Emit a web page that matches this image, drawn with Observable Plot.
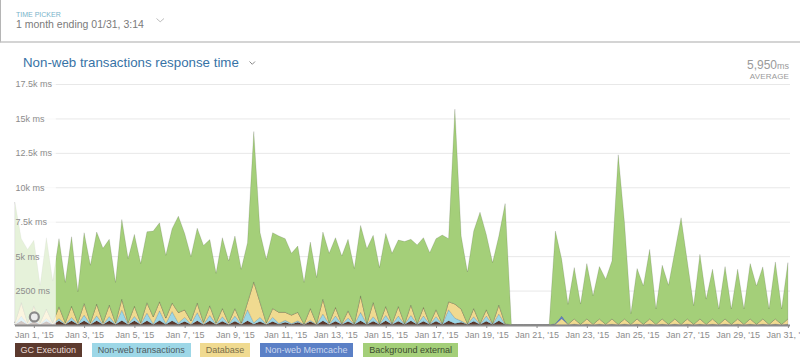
<!DOCTYPE html>
<html><head><meta charset="utf-8">
<script src="https://cdn.jsdelivr.net/npm/d3@7"></script>
<script src="https://cdn.jsdelivr.net/npm/@observablehq/plot@0.6"></script>
<style>
html,body{margin:0;padding:0;background:#fff;width:800px;height:362px;overflow:hidden;font-family:"Liberation Sans",Arial,sans-serif;}
#top{position:absolute;left:0;top:0;width:800px;height:43px;border-left:1px solid #b5b5b5;border-bottom:2px solid #d4d4d4;box-sizing:border-box;}
.abs{position:absolute;white-space:nowrap;line-height:1;}
#tp{left:16px;top:11px;font-size:7px;color:#78b2c9;}
#range{left:16px;top:19.3px;font-size:10.5px;color:#7a7a7a;}
#title{left:23px;top:55.6px;font-size:13.3px;color:#3773a6;}
#avg{right:11px;top:58.5px;font-size:12px;color:#9a9a9a;text-align:right;}
#avg small{font-size:9px;}
#avgl{right:11px;top:73.3px;font-size:8px;color:#9a9a9a;letter-spacing:0.15px;}
#chart{position:absolute;left:0;top:72px;}
.lg{position:absolute;top:343px;height:14px;line-height:14px;font-size:9px;text-align:center;white-space:nowrap;}
</style></head>
<body>
<div id="top"></div>
<div class="abs" id="tp">TIME PICKER</div>
<div class="abs" id="range">1 month ending 01/31, 3:14</div>
<svg style="position:absolute;left:0;top:0" width="800" height="80">
  <polyline points="156.5,18.5 160.2,21.8 164,18.5" fill="none" stroke="#bdbdbd" stroke-width="1"/>
  <polyline points="249.5,61.5 252.3,64.3 255,61.5" fill="none" stroke="#8a8a8a" stroke-width="1"/>
</svg>
<div class="abs" id="title">Non-web transactions response time</div>
<div class="abs" id="avg">5,950<small>ms</small></div>
<div class="abs" id="avgl">AVERAGE</div>
<div id="chart"></div>
<div id="legend"></div>
<script>
// ---- data (ms), one value every 6 hours starting 2014-12-31 06:00 UTC ----
const startTime = "2014-12-31T06:00:00Z";
const stepHours = 6;

const gcExecution = [
30,300,30,280,30,280,30,300,30,300,
30,300,30,300,30,300,30,320,30,300,
30,300,40,320,40,300,60,250,30,300,
30,300,30,280,30,280,30,300,60,250,
30,250,60,200,50,200,20,250,20,300,
30,280,30,250,30,300,30,280,30,300,
30,280,30,300,30,280,30,280,30,300,
100,200,30,280,30,280,30,300,30,0,
0,0,0,0,0,0,0,0,0,30,
0,30,0,30,0,30,0,30,0,30,
0,30,0,30,0,30,0,30,0,30,
0,30,0,30,0,30,0,30,0,30,
0,30,0,30];

const nonWebTransactions = [
20,350,20,250,20,200,20,180,20,250,
20,420,20,370,20,320,20,760,20,320,
20,570,40,710,60,680,80,300,30,600,
20,400,20,320,20,370,20,810,100,310,
20,310,60,140,50,100,10,100,10,500,
20,370,20,250,20,620,20,320,20,400,
20,370,20,400,20,370,20,320,20,810,
400,100,20,320,20,370,20,500,20,0,
0,0,0,0,0,0,0,0,0,30,
0,30,0,30,0,30,0,30,0,30,
0,30,0,30,0,30,0,30,0,30,
0,30,0,30,0,30,0,30,0,30,
0,30,0,30];

const database = [
120,990,120,870,120,680,120,840,120,820,
120,850,120,850,120,830,120,800,120,750,
120,750,520,660,400,620,760,550,240,700,
150,700,100,600,100,550,100,530,2970,1080,
100,640,800,580,620,620,40,850,70,1080,
100,630,50,530,50,1200,50,1040,50,650,
50,700,50,750,50,630,50,510,50,580,
1020,860,50,600,50,460,50,650,50,0,
0,0,0,0,0,0,50,450,50,380,
50,380,50,380,50,380,50,380,50,380,
50,380,50,380,50,380,50,380,50,380,
50,380,50,380,50,380,50,380,50,380,
50,380,50,380];

const nonWebMemcache = [
0,0,0,0,0,0,0,0,0,0,
0,0,0,0,0,0,0,0,0,0,
0,0,0,0,0,0,0,0,0,0,
0,0,0,0,0,0,0,0,0,0,
0,0,0,0,0,0,0,0,0,0,
0,0,0,0,0,0,0,0,0,0,
0,0,0,0,0,0,0,0,0,0,
0,0,0,0,0,0,0,0,0,0,
0,0,0,0,0,0,50,200,0,0,
0,0,0,0,0,0,0,0,0,0,
0,0,0,0,0,0,0,0,0,0,
0,0,0,0,0,0,0,0,0,0,
0,0,0,0];

const backgroundExternal = [
8730,4630,5320,4750,2720,5180,3030,4950,2920,5040,
2240,5130,4170,5230,5400,4770,2920,5780,4650,5210,
4290,5150,6220,5730,4560,5390,7000,5550,4670,5430,
5580,4800,3600,5140,4500,5260,3900,4340,10920,5060,
4620,5500,5540,5350,4490,4810,3020,4820,3350,4870,
5060,5060,4910,5190,4000,5110,5440,4870,4070,5300,
5110,4820,5960,4770,5710,5060,5150,5160,6430,4580,
14150,5300,3750,5620,8090,5470,4430,5010,8720,0,
0,0,0,0,0,0,6720,4120,1450,3730,
1470,4020,2070,3800,3280,4210,12310,6960,750,3660,
2790,5050,1110,3900,2840,4900,7740,4160,1350,4690,
1830,3610,1110,3800,1110,3610,1110,4020,2790,3780,
1110,4140,1110,4090];

const seriesNames = ["GC Execution","Non-web transactions","Database","Non-web Memcache","Background external"];
const seriesColors = ["#5c3a2e","#9dd7e7","#f0da90","#5b80c6","#a4cf79"];
const legendText = ["#e9dcd6","#4f5a5e","#7a6e4a","#cdd8ef","#3c4a30"];

const yTicks = [2500,5000,7500,10000,12500,15000,17500];
const yTickLabels = ["2500 ms","5k ms","7.5k ms","10k ms","12.5k ms","15k ms","17.5k ms"];
const xTicks = ["2015-01-01","2015-01-03","2015-01-05","2015-01-07","2015-01-09","2015-01-11","2015-01-13","2015-01-15",
  "2015-01-17","2015-01-19","2015-01-21","2015-01-23","2015-01-25","2015-01-27","2015-01-29","2015-01-31"];
const xDomain = ["2014-12-31T06:00:00Z","2015-01-31T02:00:00Z"];
const fadeRange = {x1: "2014-12-31T06:00:00Z", x2: "2015-01-01T21:00:00Z"};
const marker = {time: "2015-01-01T00:00:00Z", value: 620};

// ---- build ----
const times = gcExecution.map((_, i) => new Date(Date.parse(startTime) + i * stepHours * 3600e3));
const seriesValues = [gcExecution, nonWebTransactions, database, nonWebMemcache, backgroundExternal];
const rows = [];
seriesNames.forEach((s, k) => seriesValues[k].forEach((v, i) => rows.push({time: times[i], series: s, value: v})));

const chart = Plot.plot({
  width: 800, height: 272,
  marginLeft: 15, marginRight: 10, marginTop: 12, marginBottom: 19,
  style: {fontFamily: "'Liberation Sans', Arial, sans-serif", fontSize: "9px", color: "#8c8c8c", background: "transparent", overflow: "visible"},
  x: {type: "utc", domain: xDomain.map(d => new Date(d)), ticks: xTicks.map(d => new Date(d + "T00:00:00Z")),
      tickFormat: d3.utcFormat("%b %-d, '%y"), tickSize: 3, tickPadding: 3, label: null},
  y: {domain: [0, 17500], axis: null},
  color: {domain: seriesNames, range: seriesColors},
  marks: [
    Plot.ruleY(yTicks, {stroke: "#e8e8e8", strokeWidth: 1}),
    Plot.areaY(rows, {x: "time", y: "value", fill: "series", order: seriesNames, curve: "linear",
      stroke: "#000", strokeOpacity: 0.2, strokeWidth: 0.6}),
    Plot.rect([fadeRange], {x1: d => new Date(d.x1), x2: d => new Date(d.x2), y1: 0, y2: 17500, fill: "white", fillOpacity: 0.72}),
    Plot.ruleY([0], {stroke: "#8a8a8a", strokeWidth: 2}),
    Plot.dot([marker], {x: d => new Date(d.time), y: "value", r: 4.5, stroke: "#8a8a8a", strokeWidth: 2.2, fill: "#ececec"}),
    Plot.text(yTicks, {y: d => d, text: (d, i) => yTickLabels[i], frameAnchor: "left", textAnchor: "start", lineAnchor: "middle", fill: "#8c8c8c"})
  ]
});
document.getElementById("chart").appendChild(chart);

// legend
const lgLeft = [15, 91.7, 200, 260, 363.3];
const lgWidth = [66.7, 99, 50, 92.7, 94.7];
const lg = document.getElementById("legend");
seriesNames.forEach((s, k) => {
  const d = document.createElement("div");
  d.className = "lg";
  d.style.left = lgLeft[k] + "px";
  d.style.width = lgWidth[k] + "px";
  d.style.background = seriesColors[k];
  d.style.color = legendText[k];
  d.textContent = s;
  lg.appendChild(d);
});
</script>
</body></html>
